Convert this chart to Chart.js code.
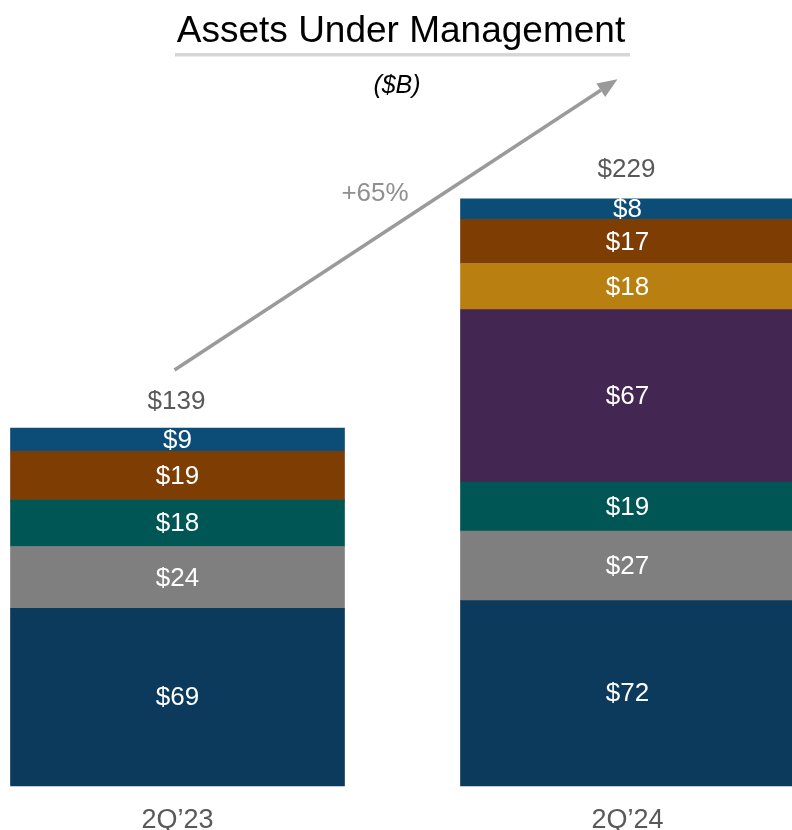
<!DOCTYPE html>
<html>
<head>
<meta charset="utf-8">
<script src="https://cdn.jsdelivr.net/npm/chart.js@4/dist/chart.umd.min.js"></script>
<style>
  html, body { margin: 0; padding: 0; background: #ffffff; }
  #wrap { width: 792px; height: 830px; position: relative; }
</style>
</head>
<body>
<div id="wrap"><canvas id="c" width="792" height="830"></canvas></div>
<script>
// ---- data ----
const categories = ['2Q\u201923', '2Q\u201924'];
const seriesNames = ['Segment A', 'Segment B', 'Segment C', 'Segment D', 'Segment E', 'Segment F', 'Segment G'];
const segA = [69, 72];   // bottom, dark navy
const segB = [24, 27];   // gray
const segC = [18, 19];   // teal
const segD = [0, 67];    // purple
const segE = [0, 18];    // gold
const segF = [19, 17];   // brown
const segG = [9, 8];     // top, blue
const totals = [139, 229];
const growthLabel = '+65%';
const titleText = 'Assets Under Management';
const unitText = '($B)';

const colors = ['#0B3A5C', '#7F7F7F', '#005654', '#432652', '#B98011', '#7E3E03', '#0C4D78'];
const seriesData = [segA, segB, segC, segD, segE, segF, segG];

const FONT = '"Liberation Sans", Arial, Helvetica, sans-serif';

const datasets = seriesData.map((d, i) => ({
  label: seriesNames[i],
  data: d,
  backgroundColor: colors[i],
  borderWidth: 0,
  barThickness: 334,
  clip: false
}));

const overlay = {
  id: 'overlay',
  afterDatasetsDraw(chart) {
    const ctx = chart.ctx;
    const xs = chart.scales.x, ys = chart.scales.y;
    ctx.save();
    // segment labels
    ctx.font = '26px ' + FONT;
    ctx.fillStyle = '#FFFFFF';
    ctx.textAlign = 'center';
    ctx.textBaseline = 'middle';
    chart.data.datasets.forEach((ds, di) => {
      const meta = chart.getDatasetMeta(di);
      meta.data.forEach((bar, i) => {
        const v = ds.data[i];
        if (!v) return;
        const cy = (bar.y + bar.base) / 2;
        ctx.fillText('$' + v, bar.x, cy + 1);
      });
    });
    // totals
    ctx.fillStyle = '#595959';
    ctx.textBaseline = 'alphabetic';
    totals.forEach((t, i) => {
      const x = xs.getPixelForValue(i);
      const y = ys.getPixelForValue(t) - 19;
      ctx.fillText('$' + t, x - 1, y);
    });
    // arrow
    const x0 = xs.getPixelForValue(0) - 3;
    const y0 = ys.getPixelForValue(totals[0]) - 58;
    const x1 = xs.getPixelForValue(1) - 10;
    const y1 = ys.getPixelForValue(totals[1]) - 117;
    const ang = Math.atan2(y1 - y0, x1 - x0);
    const headLen = 20, headHalf = 8;
    const bx = x1 - headLen * Math.cos(ang), by = y1 - headLen * Math.sin(ang);
    ctx.strokeStyle = '#9A9A9A';
    ctx.fillStyle = '#9A9A9A';
    ctx.lineWidth = 3.5;
    ctx.beginPath();
    ctx.moveTo(x0, y0);
    ctx.lineTo(bx, by);
    ctx.stroke();
    ctx.beginPath();
    ctx.moveTo(x1, y1);
    ctx.lineTo(bx + headHalf * Math.sin(ang), by - headHalf * Math.cos(ang));
    ctx.lineTo(bx - headHalf * Math.sin(ang), by + headHalf * Math.cos(ang));
    ctx.closePath();
    ctx.fill();
    // growth label
    ctx.fillStyle = '#8F8F8F';
    ctx.font = '26px ' + FONT;
    ctx.textAlign = 'center';
    ctx.fillText(growthLabel, 375, 201);
    // title
    ctx.fillStyle = '#000000';
    ctx.font = '37px ' + FONT;
    ctx.fillText(titleText, 401, 42);
    ctx.fillStyle = '#D6D6D6';
    ctx.fillRect(175, 53, 455, 3.5);
    // unit
    ctx.fillStyle = '#000000';
    ctx.font = 'italic 25px ' + FONT;
    ctx.fillText(unitText, 397, 93);
    ctx.restore();
  }
};

new Chart(document.getElementById('c'), {
  type: 'bar',
  data: { labels: categories, datasets },
  options: {
    responsive: false,
    devicePixelRatio: 1,
    animation: false,
    layout: { padding: { left: 177.5, right: 164.5, top: 16, bottom: 0 } },
    plugins: { legend: { display: false }, tooltip: { enabled: false } },
    scales: {
      x: {
        stacked: true,
        offset: false,
        grid: { display: false, drawTicks: false },
        border: { display: false },
        ticks: { color: '#595959', font: { family: FONT, size: 27 }, padding: 18, maxRotation: 0, autoSkip: false },
        afterFit(scale) { scale.height = 44; }
      },
      y: {
        stacked: true,
        display: false,
        min: 0,
        max: 299
      }
    }
  },
  plugins: [overlay]
});
</script>
</body>
</html>
